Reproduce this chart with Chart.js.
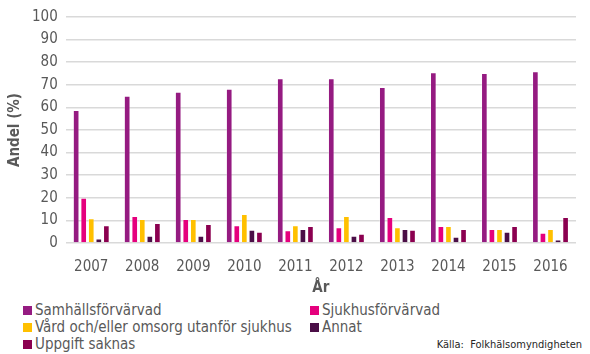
<!DOCTYPE html>
<html lang="sv">
<head>
<meta charset="utf-8">
<script src="https://cdn.jsdelivr.net/npm/chart.js@4/dist/chart.umd.min.js"></script>
<style>
  body { margin: 0; background: #fff; font-family: "DejaVu Sans Condensed", "DejaVu Sans", sans-serif; }
  #wrap { position: relative; width: 590px; height: 354px; overflow: hidden; }
  #box { position: absolute; left: 0; top: 0; width: 590px; height: 297px; }
  .leg { position: absolute; font-size: 15px; color: #595959; line-height: 18px; white-space: nowrap; }
  .leg i { display: inline-block; width: 9px; height: 9px; margin-right: 3px; vertical-align: 0px; }
  #kalla { position: absolute; right: 8px; top: 338px; font-size: 11px; color: #262626; white-space: nowrap; }
</style>
</head>
<body>
<div id="wrap">
  <div id="box"><canvas id="chartAndel"></canvas></div>
  <div id="legend"></div>
  <div id="kalla">Källa:&nbsp; Folkhälsomyndigheten</div>
</div>
<script>
// Data
const ar = ['2007', '2008', '2009', '2010', '2011', '2012', '2013', '2014', '2015', '2016'];
const serieNamn = ['Samhällsförvärvad', 'Sjukhusförvärvad', 'Vård och/eller omsorg utanför sjukhus', 'Annat', 'Uppgift saknas'];
const samhallsforvarvad = [58.8, 65.1, 66.9, 68.2, 72.9, 72.9, 69.0, 75.6, 75.2, 76.0];
const sjukhusforvarvad = [20.0, 11.9, 10.6, 7.9, 5.6, 7.0, 11.5, 7.5, 6.2, 4.5];
const vardOmsorg = [10.9, 10.6, 10.6, 12.8, 7.9, 11.9, 7.0, 7.5, 6.2, 6.2];
const annat = [2.0, 3.2, 3.2, 5.9, 6.2, 3.2, 6.2, 2.8, 5.0, 1.5];
const uppgiftSaknas = [7.9, 8.8, 8.4, 5.0, 7.5, 4.1, 5.9, 6.2, 7.5, 11.5];
const yTicks = [0, 10, 20, 30, 40, 50, 60, 70, 80, 90, 100];

const serier = [samhallsforvarvad, sjukhusforvarvad, vardOmsorg, annat, uppgiftSaknas];
const farger = ['#951b81', '#e5007d', '#ffc000', '#4b0f47', '#8b0050'];
const FONT = '"DejaVu Sans Condensed", "DejaVu Sans", sans-serif';

// Legend i två kolumner (HTML)
const legPos = [[23, 301], [310, 301], [23, 318], [310, 318], [23, 335]];
const elLegend = document.getElementById('legend');
serieNamn.forEach((namn, i) => {
    const d = document.createElement('div');
    d.className = 'leg';
    d.style.left = legPos[i][0] + 'px';
    d.style.top = legPos[i][1] + 'px';
    d.innerHTML = '<i style="background:' + farger[i] + '"></i>' + namn;
    elLegend.appendChild(d);
});

const ctx = document.getElementById('chartAndel').getContext('2d');
new Chart(ctx, {
    type: 'bar',
    data: {
        labels: ar,
        datasets: serier.map((s, i) => ({
            label: serieNamn[i],
            data: s,
            backgroundColor: farger[i],
            borderColor: 'rgba(255,255,255,0.3)',
            borderWidth: 1,
            categoryPercentage: 0.74,
            barPercentage: 0.88
        }))
    },
    options: {
        responsive: true,
        maintainAspectRatio: false,
        animation: false,
        layout: { padding: { top: 2, right: 14, left: 0, bottom: 0 } },
        plugins: { legend: { display: false }, tooltip: { enabled: false } },
        scales: {
            x: {
                grid: { display: false, drawTicks: false },
                border: { display: false },
                ticks: { color: '#595959', font: { family: FONT, size: 15 }, padding: 15 },
                title: { display: true, text: 'År', color: '#595959', font: { family: FONT, size: 15, weight: 'bold' }, padding: { top: -12, bottom: 0 } }
            },
            y: {
                min: 0,
                max: 100,
                afterBuildTicks: axis => { axis.ticks = yTicks.map(v => ({ value: v })); },
                grid: { color: '#d9d9d9', lineWidth: 1.5, drawTicks: false },
                border: { display: false },
                ticks: { color: '#595959', font: { family: FONT, size: 15 }, padding: 8, autoSkip: false },
                title: { display: true, text: 'Andel (%)', color: '#595959', font: { family: FONT, size: 15, weight: 'bold' }, padding: { top: 6, bottom: 0 } }
            }
        }
    }
});
</script>
</body>
</html>
